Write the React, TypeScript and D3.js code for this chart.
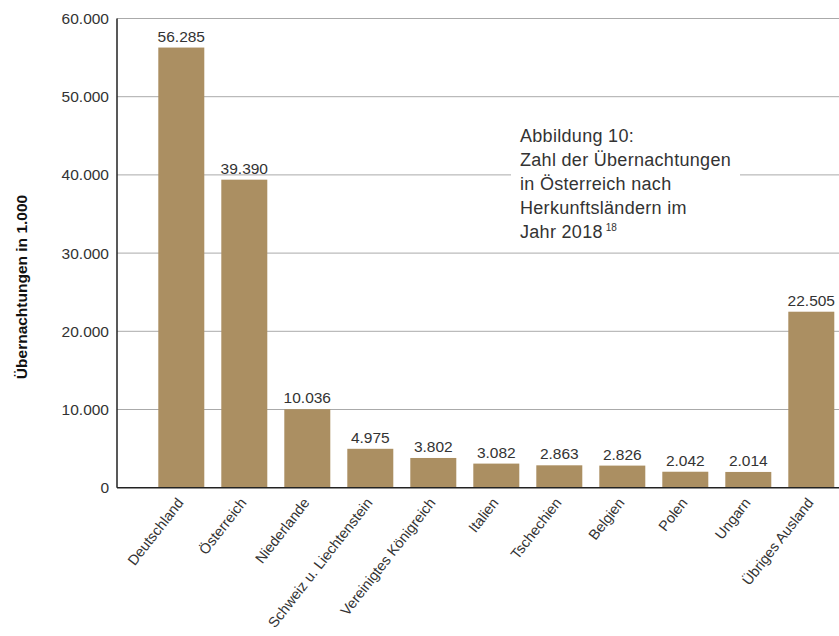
import React from "react";
import * as d3 from "d3";

const categories = [
  "Deutschland",
  "Österreich",
  "Niederlande",
  "Schweiz u. Liechtenstein",
  "Vereinigtes Königreich",
  "Italien",
  "Tschechien",
  "Belgien",
  "Polen",
  "Ungarn",
  "Übriges Ausland",
];
const values = [56285, 39390, 10036, 4975, 3802, 3082, 2863, 2826, 2042, 2014, 22505];
const yTicks = [0, 10000, 20000, 30000, 40000, 50000, 60000];
const yTitle = "Übernachtungen in 1.000";
const noteLines = [
  "Abbildung 10:",
  "Zahl der Übernachtungen",
  "in Österreich nach",
  "Herkunftsländern im",
  "Jahr 2018",
];
const noteSup = "18";

const W = 839;
const H = 636;
const FONT = "'Liberation Sans', Arial, Helvetica, sans-serif";
const BAR = "#ab8f62";
const TXT = "#333";

const fmt = (v: number) => (v === 0 ? "0" : d3.format(",")(v).replace(/,/g, "."));

export default function App() {
  const axisX = 117;
  const y = d3.scaleLinear().domain([0, 60000]).range([487.7, 18.5]);
  const x = d3
    .scaleBand<string>()
    .domain(categories)
    .range([149.8, 842.8])
    .paddingInner(0.27)
    .paddingOuter(0.135);

  return (
    <svg
      width={W}
      height={H}
      style={{ position: "absolute", left: 0, top: 0, background: "#fff", display: "block" }}
      fontFamily={FONT}
    >
      {yTicks.filter((t) => t > 0).map((t) => (
        <line key={t} x1={axisX} x2={W} y1={y(t)} y2={y(t)} stroke="#aaa" strokeWidth={1} />
      ))}
      <rect x={511} y={118} width={229} height={128} fill="#fff" />
      {values.map((v, i) => (
        <rect
          key={categories[i]}
          x={x(categories[i])}
          y={y(v)}
          width={x.bandwidth()}
          height={y(0) - y(v)}
          fill={BAR}
        />
      ))}
      {values.map((v, i) => (
        <text
          key={"v" + i}
          x={(x(categories[i]) as number) + x.bandwidth() / 2}
          y={y(v) - 6}
          textAnchor="middle"
          fontSize={15.5}
          fill={TXT}
        >
          {fmt(v)}
        </text>
      ))}
      <line x1={axisX} x2={axisX} y1={y(60000)} y2={y(0)} stroke="#222" strokeWidth={1.5} />
      <line x1={axisX} x2={W} y1={y(0)} y2={y(0)} stroke="#222" strokeWidth={1.5} />
      {yTicks.map((t) => (
        <text
          key={"t" + t}
          x={109}
          y={y(t)}
          dy="0.35em"
          textAnchor="end"
          fontSize={15.5}
          fill={TXT}
        >
          {fmt(t)}
        </text>
      ))}
      {categories.map((c) => (
        <text
          key={"c" + c}
          transform={`translate(${(x(c) as number) + x.bandwidth() / 2 + 3},${503}) rotate(-52)`}
          textAnchor="end"
          fontSize={14.5}
          fill={TXT}
        >
          {c}
        </text>
      ))}
      <text
        transform={`translate(27,287) rotate(-90)`}
        textAnchor="middle"
        fontSize={15.5}
        fontWeight="bold"
        fill="#111"
      >
        {yTitle}
      </text>
      {noteLines.map((l, i) => (
        <text
          key={"n" + i}
          x={520}
          y={141.5 + i * 24}
          fontSize={18}
          letterSpacing={0.3}
          fill={TXT}
        >
          {l}
          {i === noteLines.length - 1 ? (
            <tspan dx={3} dy={-7} fontSize={10} letterSpacing={0}>
              {noteSup}
            </tspan>
          ) : null}
        </text>
      ))}
    </svg>
  );
}
